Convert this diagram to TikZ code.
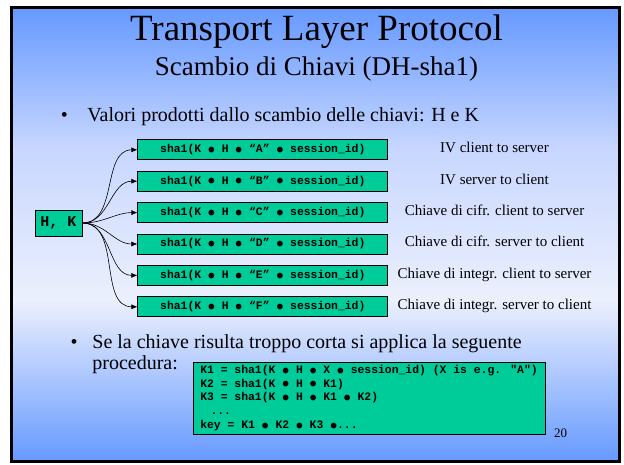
\documentclass[tikz,border=0pt]{standalone}
\usepackage{fontspec}
\setmainfont{Liberation Serif}
\newfontfamily\codefont{Liberation Mono}
\newfontfamily\symfont{DejaVu Sans Mono}
\usetikzlibrary{matrix,arrows.meta}
\definecolor{keygreen}{RGB}{0,204,153}
\definecolor{bgblue}{RGB}{102,153,255}
\definecolor{bgmid}{RGB}{200,215,255}
\definecolor{bglight}{RGB}{236,240,253}
\newcommand{\bu}{\makebox[0.6em]{\raisebox{0.3pt}{\symfont\fontsize{9.5pt}{9.5pt}\selectfont ●}}}
\tikzset{
  keybox/.style={draw,fill=keygreen,minimum width=250pt,minimum height=20pt,inner sep=0pt,
    font=\codefont\bfseries\fontsize{11.4pt}{13.8pt}\selectfont},
  lbl/.style={inner sep=0pt,font=\fontsize{15pt}{17pt}\selectfont},
  fan/.style={-{Latex[length=6pt,width=5pt]},line width=0.6pt},
}
\begin{document}
\begin{tikzpicture}[x=1pt,y=-1pt,line width=0.8pt]
\useasboundingbox (0,0) rectangle (624,464);
% slide background
\shade[top color=bgblue,bottom color=bgmid] (11.5,7.5) rectangle (619.5,150);
\shade[top color=bgmid,bottom color=bglight] (11.5,149.5) rectangle (619.5,300);
\shade[top color=bglight,bottom color=bgblue] (11.5,299.5) rectangle (619.5,461.5);
\draw[line width=3pt] (11.5,7.5) rectangle (619.5,461.5);
% titles
\node[anchor=base,font=\fontsize{37pt}{40pt}\selectfont] (title) at (316.5,40) {Transport Layer Protocol};
\node[anchor=base,font=\fontsize{27pt}{30pt}\selectfont] (subtitle) at (316.5,75) {Scambio di Chiavi (DH-sha1)};
\node[anchor=base,font=\fontsize{20pt}{24pt}\selectfont] (dot1) at (64.5,121) {•};
\node[anchor=base west,inner sep=0pt,font=\fontsize{20pt}{24pt}\selectfont] (bul1) at (87,121) {Valori prodotti dallo scambio delle chiavi: H e K};
% derived keys
\matrix[matrix of nodes,inner sep=0pt,anchor=north west,
row sep=10.6pt,column sep=9.5pt,
column 1/.style={nodes={keybox}},
column 2/.style={nodes={lbl}}] (k) at (137,139) {
sha1(K \bu{} H \bu{} “A” \bu{} session\_id) & IV client to server\\
sha1(K \bu{} H \bu{} “B” \bu{} session\_id) & IV server to client\\
sha1(K \bu{} H \bu{} “C” \bu{} session\_id) & Chiave di cifr. client to server\\
sha1(K \bu{} H \bu{} “D” \bu{} session\_id) & Chiave di cifr. server to client\\
sha1(K \bu{} H \bu{} “E” \bu{} session\_id) & Chiave di integr. client to server\\
sha1(K \bu{} H \bu{} “F” \bu{} session\_id) & Chiave di integr. server to client\\
};
\node[keybox,minimum width=47pt,minimum height=26pt,font=\codefont\bfseries\fontsize{15pt}{17pt}\selectfont] (hk) at (58.5,223) {H, K};
\foreach \i in {1,...,6}
  \draw[fan] (hk.east) to[out=0,in=180] (k-\i-1.west);
% key extension
\node[anchor=base,font=\fontsize{20pt}{24pt}\selectfont] (dot2) at (74,348) {•};
\node[anchor=base west,inner sep=0pt,font=\fontsize{20pt}{24pt}\selectfont] (bul2) at (92,348) {Se la chiave risulta troppo corta si applica la seguente};
\node[anchor=base west,inner sep=0pt,font=\fontsize{20pt}{24pt}\selectfont] (bul2b) at (92,369) {procedura:};
\node[keybox,minimum width=352pt,minimum height=72pt,align=left] (ext) at (369,398) {%
K1 = sha1(K \bu{} H \bu{} X \bu{} session\_id) (X is e.g. "A")\\
K2 = sha1(K \bu{} H \bu{} K1)\\
K3 = sha1(K \bu{} H \bu{} K1 \bu{} K2)\\
\hspace*{0.9em}...\\
key = K1 \bu{} K2 \bu{} K3 \bu{}...};
\node[anchor=base,font=\fontsize{13pt}{15pt}\selectfont] (page) at (560.5,437) {20};
\end{tikzpicture}
\end{document}
